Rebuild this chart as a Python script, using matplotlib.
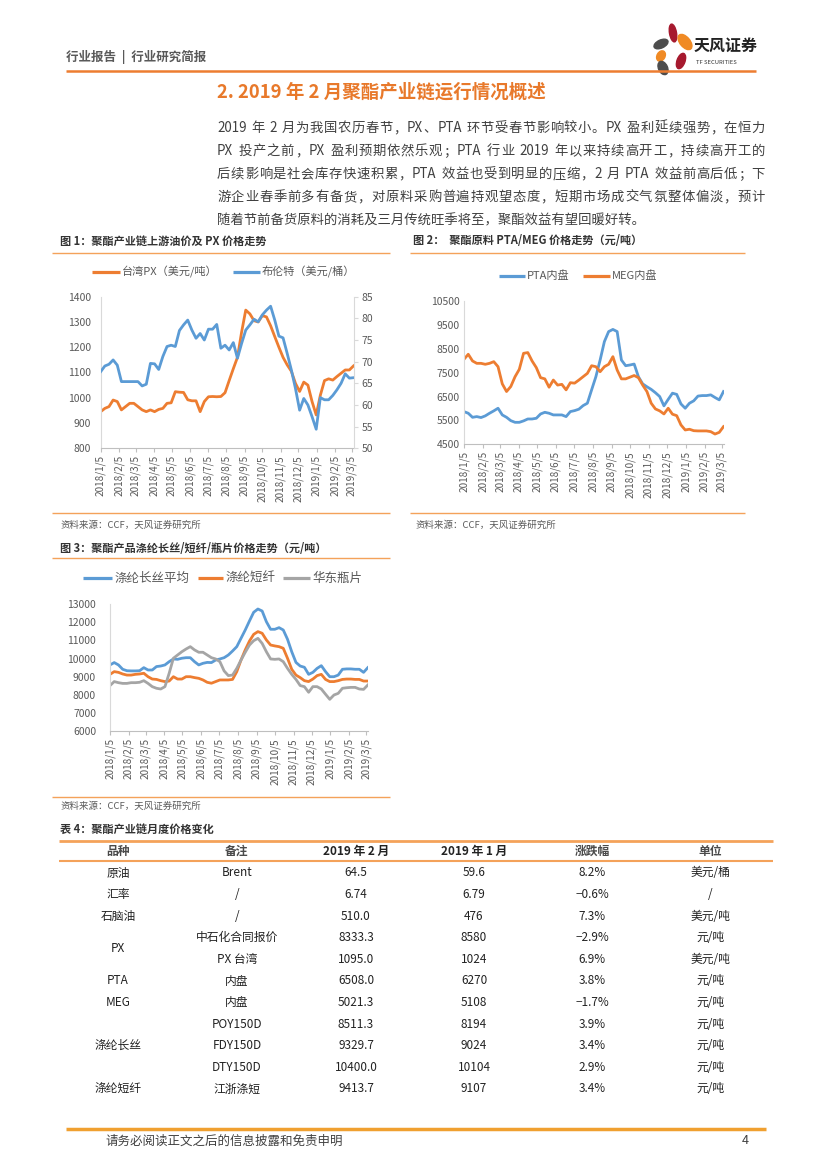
import re
import matplotlib
matplotlib.use('Agg')
import matplotlib.pyplot as plt
from matplotlib.lines import Line2D
from matplotlib.patches import Ellipse
import pandas as pd

plt.rcParams['font.family'] = ['Noto Sans CJK SC', 'DejaVu Sans']

W, H = 827, 1169

# ---------------- 数据 ----------------
dates = pd.date_range('2018-01-05', periods=62, freq='7D')
tick_labels = ['2018/1/5', '2018/2/5', '2018/3/5', '2018/4/5', '2018/5/5', '2018/6/5',
               '2018/7/5', '2018/8/5', '2018/9/5', '2018/10/5', '2018/11/5', '2018/12/5',
               '2019/1/5', '2019/2/5', '2019/3/5']

# 图1
px_taiwan = [945, 958, 965, 991, 985, 952, 965, 978, 978, 965,
             952, 945, 952, 945, 954, 958, 978, 980, 1024, 1022,
             1021, 992, 988, 988, 945, 985, 1004, 1005, 1004, 1005,
             1020, 1068, 1115, 1160, 1260, 1347, 1332, 1305, 1300, 1325,
             1320, 1285, 1242, 1200, 1160, 1130, 1105, 1057, 1025, 1062,
             1050, 985, 932, 1010, 1068, 1075, 1070, 1084, 1097, 1110,
             1110, 1126]
brent = [67.7, 69.0, 69.4, 70.4, 69.2, 65.4, 65.4, 65.4, 65.4, 65.4,
         64.4, 64.8, 69.6, 69.5, 68.2, 71.2, 73.5, 73.8, 73.5, 77.2,
         78.5, 79.6, 77.3, 75.4, 76.5, 75.0, 77.5, 77.5, 78.6, 73.1,
         73.8, 72.7, 74.4, 70.8, 74.2, 77.3, 78.5, 79.8, 79.2, 80.8,
         81.9, 82.8, 79.6, 75.9, 75.5, 71.9, 68.1, 63.8, 58.8, 61.5,
         60.0, 57.3, 54.4, 61.7, 61.2, 61.2, 62.2, 63.5, 65.0, 67.2,
         66.2, 66.3]

# 图2
pta = [5868, 5800, 5630, 5660, 5620, 5690, 5800, 5900, 6010, 5730,
       5630, 5490, 5420, 5420, 5480, 5560, 5560, 5590, 5770, 5840,
       5800, 5730, 5730, 5730, 5660, 5870, 5910, 5970, 6120, 6220,
       6780, 7330, 8030, 8800, 9220, 9310, 9220, 8030, 7790, 7820,
       7860, 7330, 7030, 6910, 6800, 6660, 6500, 6110, 6380, 6640,
       6590, 6190, 6010, 6220, 6320, 6520, 6540, 6540, 6570, 6460,
       6360, 6710]
meg = [8060, 8270, 7990, 7890, 7890, 7850, 7890, 7960, 7750, 7030,
       6710, 6920, 7330, 7640, 8310, 8340, 7990, 7710, 7290, 7240,
       6890, 7190, 6980, 7010, 6780, 7080, 7060, 7190, 7330, 7470,
       7790, 7750, 7540, 7750, 7850, 8170, 7610, 7240, 7240, 7310,
       7380, 7290, 6980, 6710, 6220, 5980, 5900, 5770, 6010, 5760,
       5700, 5310, 5100, 5130, 5070, 5060, 5060, 5060, 5030, 4930,
       5000, 5240]

# 图3
filament = [9650, 9780, 9650, 9410, 9330, 9320, 9320, 9330, 9500, 9370,
            9370, 9560, 9590, 9650, 9830, 9980, 9960, 10020, 10050, 10050,
            9830, 9650, 9740, 9790, 9780, 9920, 9980, 10050, 10200, 10420,
            10660, 11120, 11580, 12080, 12560, 12740, 12630, 12040, 11620, 11620,
            11710, 11580, 11070, 10380, 9790, 9590, 9520, 9130, 9240, 9460,
            9610, 9280, 9000, 9000, 9090, 9410, 9430, 9430, 9410, 9410,
            9240, 9500]
staple = [9130, 9280, 9240, 9150, 9090, 9090, 9130, 9150, 9190, 9000,
          8870, 8850, 8780, 8730, 8760, 9000, 8870, 8870, 9000, 9000,
          8950, 8910, 8820, 8690, 8640, 8730, 8820, 8820, 8820, 8850,
          9280, 9920, 10480, 10970, 11340, 11490, 11400, 11030, 10750, 10700,
          10660, 10570, 10020, 9410, 9090, 8950, 8780, 8730, 8870, 9060,
          9130, 8850, 8730, 8730, 8780, 8850, 8870, 8870, 8850, 8850,
          8760, 8760]
bottle = [8510, 8730, 8670, 8630, 8630, 8670, 8670, 8690, 8780, 8630,
          8450, 8360, 8320, 8450, 9190, 10020, 10200, 10380, 10530, 10660,
          10480, 10350, 10350, 10200, 10050, 9980, 9830, 9320, 9060, 9090,
          9460, 9920, 10350, 10750, 10990, 11120, 10840, 10380, 9980, 9960,
          9980, 9830, 9460, 9130, 8850, 8510, 8450, 8140, 8450, 8450,
          8320, 8030, 7750, 7990, 8080, 8360, 8390, 8410, 8410, 8320,
          8300, 8540]

# 表4
tbl_header = ['品种', '备注', '2019 年 2 月', '2019 年 1 月', '涨跌幅', '单位']
tbl_notes = ['Brent', '/', '/', '中石化合同报价', 'PX 台湾', '内盘', '内盘',
             'POY150D', 'FDY150D', 'DTY150D', '江浙涤短']
tbl_feb = ['64.5', '6.74', '510.0', '8333.3', '1095.0', '6508.0', '5021.3',
           '8511.3', '9329.7', '10400.0', '9413.7']
tbl_jan = ['59.6', '6.79', '476', '8580', '1024', '6270', '5108',
           '8194', '9024', '10104', '9107']
tbl_chg = ['8.2%', '−0.6%', '7.3%', '−2.9%', '6.9%', '3.8%', '−1.7%',
           '3.9%', '3.4%', '2.9%', '3.4%']
tbl_unit = ['美元/桶', '/', '美元/吨', '元/吨', '美元/吨', '元/吨', '元/吨',
            '元/吨', '元/吨', '元/吨', '元/吨']
# 品种（合并单元格: 名称, 起始行, 行数）
tbl_groups = [('原油', 0, 1), ('汇率', 1, 1), ('石脑油', 2, 1), ('PX', 3, 2),
              ('PTA', 5, 1), ('MEG', 6, 1), ('涤纶长丝', 7, 3), ('涤纶短纤', 10, 1)]

paragraph = [
    '2019 年 2 月为我国农历春节，PX、PTA 环节受春节影响较小。PX 盈利延续强势，在恒力',
    'PX 投产之前，PX 盈利预期依然乐观；PTA 行业 2019 年以来持续高开工，持续高开工的',
    '后续影响是社会库存快速积累，PTA 效益也受到明显的压缩，2 月 PTA 效益前高后低；下',
    '游企业春季前多有备货，对原料采购普遍持观望态度，短期市场成交气氛整体偏淡，预计',
    '随着节前备货原料的消耗及三月传统旺季将至，聚酯效益有望回暖好转。',
]

# ---------------- 样式 ----------------
ORANGE = '#ED7D31'
BLUE = '#5B9BD5'
GRAY = '#A5A5A5'
LINE_OR = '#F4A25A'
TXT = '#595959'

fig = plt.figure(figsize=(W / 100, H / 100), dpi=100)


def fx(x):
    return x / W


def fy(y):
    return 1 - y / H


def hline(x0, x1, y, color=LINE_OR, lw=1.0):
    fig.add_artist(Line2D([fx(x0), fx(x1)], [fy(y), fy(y)], color=color, lw=lw,
                          transform=fig.transFigure, solid_capstyle='butt'))


def text(x, y, s, **kw):
    kw.setdefault('va', 'center')
    return fig.text(fx(x), fy(y), s, **kw)


def px_axes(x0, y0, x1, y1):
    return fig.add_axes([fx(x0), fy(y1), (x1 - x0) / W, (y1 - y0) / H])


def legend_item(x0, x1, y, color, label, size=8):
    hline(x0, x1, y, color=color, lw=2.3)
    text(x1 + 2, y, label, fontsize=size, color=TXT)


def justify(s, x0, x1, y, size, color):
    tokens = re.findall(r'[A-Za-z0-9.]+| |.', s)
    r = fig.canvas.get_renderer()
    sp = size * 100 / 72 * 0.28
    objs, widths = [], []
    for t in tokens:
        if t == ' ':
            objs.append(None)
            widths.append(sp)
            continue
        o = text(0, y, t, fontsize=size, color=color)
        objs.append(o)
        widths.append(o.get_window_extent(r).width)
    gap = (x1 - x0 - sum(widths)) / (len(tokens) - 1)
    x = x0
    for o, w in zip(objs, widths):
        if o is not None:
            o.set_x(fx(x))
        x += w + gap


def style_axes(ax):
    for s in ['top', 'right']:
        ax.spines[s].set_visible(False)
    ax.spines['left'].set_color('#D9D9D9')
    ax.spines['bottom'].set_color('#BFBFBF')
    ax.tick_params(axis='y', length=0, labelsize=7.5, labelcolor=TXT, pad=4)
    ax.tick_params(axis='x', length=3, color='#BFBFBF', labelsize=7.2,
                   labelcolor=TXT, pad=2, labelrotation=90)
    ax.set_xlim(dates[0], dates[-1])
    ticks = [pd.Timestamp(int(a), int(b), int(c)) for a, b, c in
             (t.split('/') for t in tick_labels)]
    ax.set_xticks(ticks)
    ax.set_xticklabels(tick_labels)
    ax.patch.set_alpha(0)


# ---------------- 页眉 ----------------
text(66, 57, '行业报告  |  行业研究简报', fontsize=9, color=TXT, fontweight='bold')
hline(66, 756, 71, color=ORANGE, lw=1.8)

logo = fig.add_axes([fx(640), fy(78), 56 / W, 56 / H])
logo.set_xlim(640, 696)
logo.set_ylim(78, 22)
logo.axis('off')
petals = [((673, 33), 7, 18, -10, '#A6192E'),
          ((685, 42), 10, 18, -40, '#F08A24'),
          ((661, 44), 8, 15, 65, '#4D4D4D'),
          ((661, 56), 8, 11, 30, '#F08A24'),
          ((681, 61), 8, 16, 20, '#A6192E'),
          ((663, 68), 9, 14, -25, '#4D4D4D')]
for c, w, h, a, col in petals:
    logo.add_patch(Ellipse(c, w, h, angle=a, color=col))
text(694, 46, '天风证券', fontsize=11.5, color='#222222', fontweight='bold')
text(696, 62, 'TF SECURITIES', fontsize=4.2, color='#333333')

text(217, 92, '2. 2019 年 2 月聚酯产业链运行情况概述', fontsize=13.3,
     color='#E8792B', fontweight='bold')

for i, line in enumerate(paragraph):
    y = 128 + i * 23
    if i < len(paragraph) - 1:
        justify(line, 217, 765, y, 9.6, '#404040')
    else:
        text(217, y, line, fontsize=9.6, color='#404040')

# ---------------- 图1 ----------------
text(60, 241, '图 1：聚酯产业链上游油价及 PX 价格走势', fontsize=8, color='#333333',
     fontweight='bold')
hline(52, 390, 253)
legend_item(92, 120, 272, ORANGE, '台湾PX（美元/吨）')
legend_item(233, 260, 272, BLUE, '布伦特（美元/桶）')

ax1 = px_axes(100.7, 296.7, 353.5, 448.3)
style_axes(ax1)
ax1.plot(dates, px_taiwan, color=ORANGE, lw=2.0)
ax1.set_ylim(800, 1400)
ax1.set_yticks(range(800, 1401, 100))
ax1.tick_params(axis='y', pad=7)
ax1r = ax1.twinx()
ax1r.plot(dates, brent, color=BLUE, lw=2.0)
ax1r.set_ylim(50, 85)
ax1r.set_yticks(range(50, 86, 5))
for s in ['top', 'left', 'bottom']:
    ax1r.spines[s].set_visible(False)
ax1r.spines['right'].set_color('#D9D9D9')
ax1r.tick_params(axis='y', length=3, color='#D9D9D9', labelsize=7.5,
                 labelcolor=TXT, pad=3)
hline(52, 390, 513)
text(60, 525, '资料来源：CCF，天风证券研究所', fontsize=6.8, color=TXT)

# ---------------- 图2 ----------------
text(413, 241, '图 2：  聚酯原料 PTA/MEG 价格走势（元/吨）', fontsize=8, color='#333333',
     fontweight='bold')
hline(410, 745, 253)
legend_item(499, 525, 276, BLUE, 'PTA内盘')
legend_item(583, 610, 276, ORANGE, 'MEG内盘')

ax2 = px_axes(464, 301, 723.5, 444.3)
style_axes(ax2)
ax2.plot(dates, pta, color=BLUE, lw=2.0)
ax2.plot(dates, meg, color=ORANGE, lw=2.0)
ax2.set_ylim(4500, 10500)
ax2.set_yticks(range(4500, 10501, 1000))
ax2.tick_params(axis='y', pad=3)
hline(410, 745, 513)
text(415, 525, '资料来源：CCF，天风证券研究所', fontsize=6.8, color=TXT)

# ---------------- 图3 ----------------
text(60, 548, '图 3：聚酯产品涤纶长丝/短纤/瓶片价格走势（元/吨）', fontsize=8,
     color='#333333', fontweight='bold')
hline(52, 390, 558)
legend_item(83, 112, 578, BLUE, '涤纶长丝平均', size=9)
legend_item(198, 223, 578, ORANGE, '涤纶短纤', size=9)
legend_item(283, 310, 578, GRAY, '华东瓶片', size=9)

ax3 = px_axes(110, 604.3, 367.8, 731)
style_axes(ax3)
ax3.plot(dates, filament, color=BLUE, lw=2.0)
ax3.plot(dates, staple, color=ORANGE, lw=2.0)
ax3.plot(dates, bottle, color=GRAY, lw=2.0)
ax3.set_ylim(6000, 13000)
ax3.set_yticks(range(6000, 13001, 1000))
ax3.tick_params(axis='y', pad=10)
hline(52, 390, 797)
text(60, 806, '资料来源：CCF，天风证券研究所', fontsize=6.8, color=TXT)

# ---------------- 表4 ----------------
text(60, 829, '表 4：聚酯产业链月度价格变化', fontsize=8, color='#333333',
     fontweight='bold')
hline(59, 773, 841, color=LINE_OR, lw=2.0)
col_x = [118, 237, 356, 474, 592, 710]
for cx, h in zip(col_x, tbl_header):
    col = '#222222' if h.startswith('2019') else '#4A4A4A'
    text(cx, 851, h, fontsize=8.5, color=col, ha='center', fontweight='bold')
hline(59, 773, 861, color=LINE_OR, lw=1.5)
row_y = [873 + 21.6 * k for k in range(len(tbl_notes))]
for name, start, n in tbl_groups:
    yc = sum(row_y[start:start + n]) / n
    text(col_x[0], yc, name, fontsize=8.5, color='#222222', ha='center')
for k, y in enumerate(row_y):
    for cx, col in zip(col_x[1:], [tbl_notes, tbl_feb, tbl_jan, tbl_chg, tbl_unit]):
        text(cx, y, col[k], fontsize=8.5, color='#222222', ha='center')

# ---------------- 页脚 ----------------
hline(66, 766, 1129, color='#F0A030', lw=2.5)
text(106, 1141, '请务必阅读正文之后的信息披露和免责申明', fontsize=9, color='#404040')
text(742, 1141, '4', fontsize=9, color='#404040')

fig.savefig('out.png', dpi=100)
